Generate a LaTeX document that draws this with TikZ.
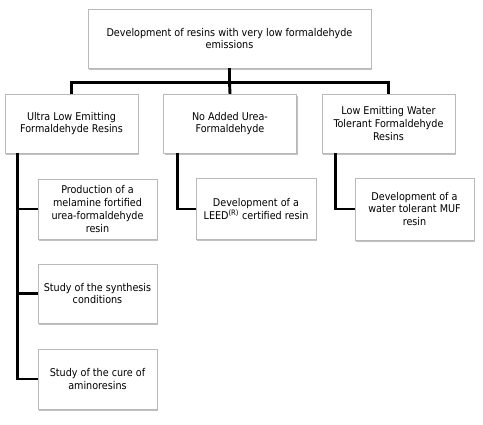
\documentclass[tikz,border=0pt]{standalone}
\usepackage{fontspec}
\setmainfont{DejaVu Sans Condensed}
\usetikzlibrary{shadows}

\begin{document}
\begin{tikzpicture}[x=1pt,y=-1pt,
    box/.style={draw=gray!55, fill=white, align=center, inner sep=2pt,
      font=\fontsize{10.7}{12.7}\selectfont,
      drop shadow={shadow xshift=1.4pt, shadow yshift=-1.8pt, fill=gray!75, opacity=.65}},
    headbox/.style={box, minimum width=133pt, minimum height=59pt},
    leafbox/.style={box, minimum width=119pt, minimum height=60pt},
    wire/.style={line width=2.9pt}]
  \useasboundingbox (0,0) rectangle (483,424);

  % top level
  \node (dev) [box, minimum width=283pt, minimum height=59pt] at (229.5,38.5)
    {Development of resins with very low formaldehyde\\emissions};

  % second level
  \node (ule) [headbox] at (71.5,123.5) {Ultra Low Emitting\\Formaldehyde Resins};
  \node (nau) [headbox] at (230,123.5) {No Added Urea-\\Formaldehyde};
  \node (lew) [headbox] at (388.5,123.5) {Low Emitting Water\\Tolerant Formaldehyde\\Resins};

  % leaves
  \node (prod) [leafbox] at (97.5,209) {Production of a\\melamine fortified\\urea-formaldehyde\\resin};
  \node (synth) [leafbox, minimum height=59pt] at (97.5,293.5) {Study of the synthesis\\conditions};
  \node (cure) [leafbox] at (97.5,379) {Study of the cure of\\aminoresins};
  \node (leed) [leafbox, minimum width=120pt, minimum height=61pt] at (256,209)
    {Development of a\\LEED\textsuperscript{(R)} certified resin};
  \node (muf) [leafbox, minimum height=62pt] at (414.5,209) {Development of a\\water tolerant MUF\\resin};

  % bus
  \draw[wire] (dev.south) -- ++(0,14) coordinate (bus);
  \draw[wire] (ule.north) |- (bus) -| (lew.north);
  \draw[wire] (bus) -- (nau.north);

  % branches
  \draw[wire] ([xshift=13pt]ule.south west) coordinate (ulet) |- (cure.west);
  \draw[wire] (ulet |- prod.west) -- (prod.west);
  \draw[wire] (ulet |- synth.west) -- (synth.west);
  \draw[wire] ([xshift=14pt]nau.south west) |- (leed.west);
  \draw[wire] ([xshift=14pt]lew.south west) |- (muf.west);
\end{tikzpicture}
\end{document}
